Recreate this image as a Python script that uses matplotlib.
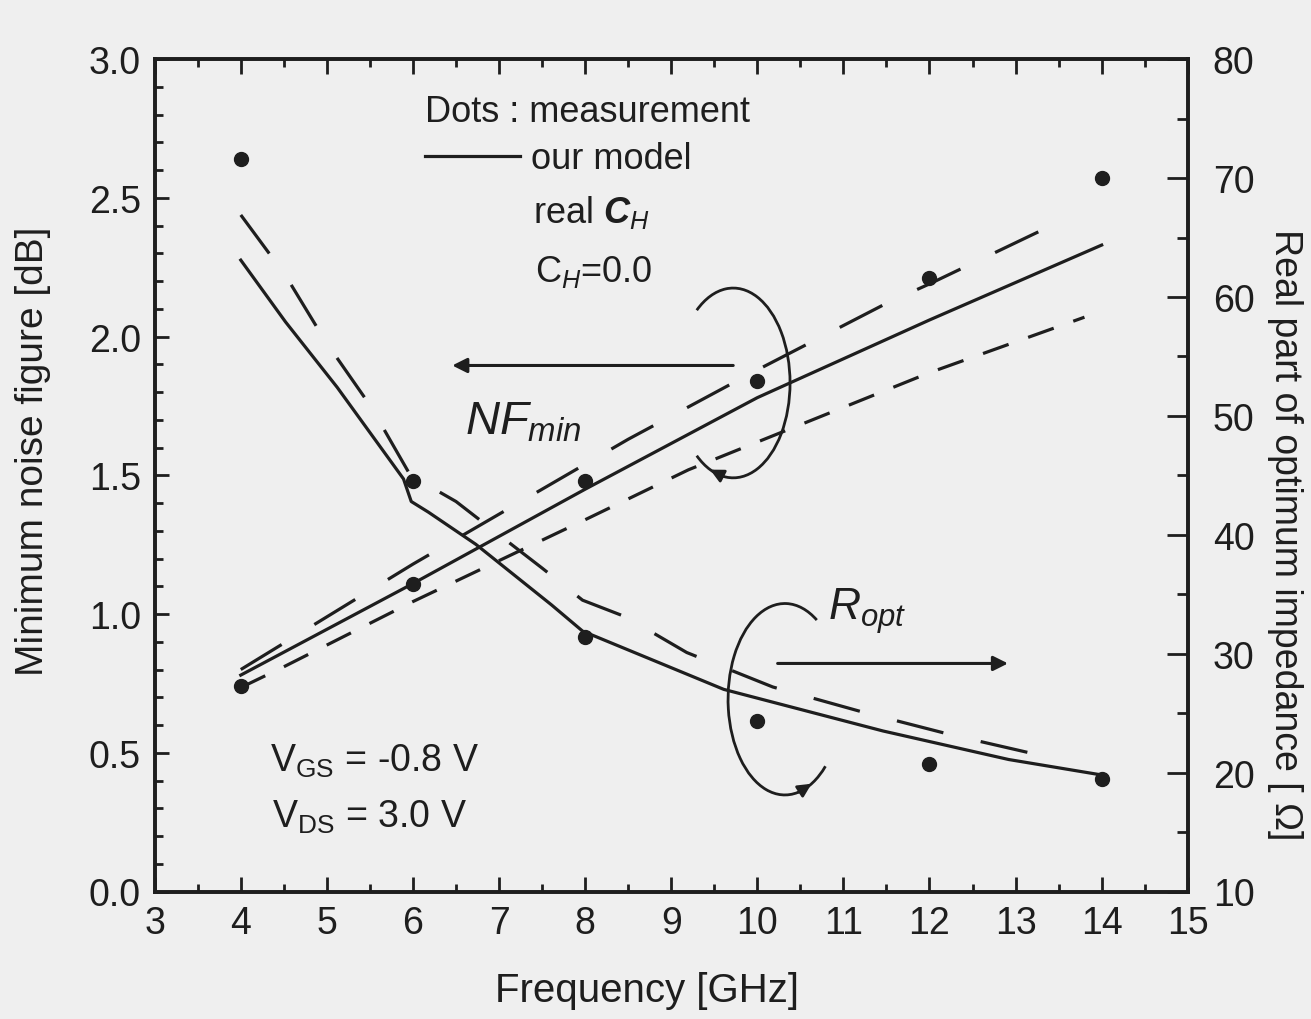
import matplotlib
matplotlib.use('Agg')
import matplotlib.pyplot as plt
from matplotlib import font_manager
from matplotlib.patches import Arc
from matplotlib.ticker import MultipleLocator, FixedLocator
import numpy as np

# ---------------- data ----------------
freq_meas = [4, 6, 8, 10, 12, 14]
nf_meas = [0.74, 1.11, 1.48, 1.84, 2.21, 2.57]          # dB
ropt_meas = [71.6, 44.5, 31.4, 24.3, 20.7, 19.5]        # Ohm

nf_model_f = [4, 6, 8, 10, 12, 14]
nf_model = [0.78, 1.11, 1.45, 1.78, 2.06, 2.33]
nf_realch_f = [4, 6, 6.5, 8.5, 10, 11.5, 12, 13.55]
nf_realch = [0.80, 1.18, 1.27, 1.63, 1.88, 2.12, 2.19, 2.42]
nf_ch0_f = [4, 4.5, 6, 8, 9.2, 10, 12, 13.8]
nf_ch0 = [0.735, 0.81, 1.045, 1.34, 1.52, 1.62, 1.87, 2.07]

ropt_model_f = [4.0, 4.52, 5.12, 5.61, 5.89, 5.98, 6.18, 6.73, 7.61, 7.97,
                9.61, 11.46, 12.92, 14.0]
ropt_model = [63.1, 57.9, 52.4, 47.5, 44.7, 42.8, 41.9, 39.2, 34.1, 31.9,
              27.0, 23.5, 21.1, 19.8]
ropt_realch_f = [4.0, 4.52, 4.99, 5.51, 5.97, 6.5, 7.16, 7.5, 7.97, 8.47,
                 9.18, 10.18, 11.22, 12.24, 13.5]
ropt_realch = [66.9, 61.8, 56.2, 50.8, 45.0, 42.8, 39.1, 37.2, 34.5, 33.1,
               30.1, 27.2, 25.1, 23.2, 21.1]

x_ticks = list(range(3, 16))
nf_ticks = [0.0, 0.5, 1.0, 1.5, 2.0, 2.5, 3.0]
ropt_ticks = [10, 20, 30, 40, 50, 60, 70, 80]

# ---------------- style ----------------
names = {f.name for f in font_manager.fontManager.ttflist}
narrow = 'Liberation Sans Narrow' if 'Liberation Sans Narrow' in names else 'Liberation Sans'
plt.rcParams['font.family'] = [narrow, 'Liberation Sans', 'DejaVu Sans']
plt.rcParams['mathtext.fontset'] = 'custom'
plt.rcParams['mathtext.rm'] = narrow
plt.rcParams['mathtext.it'] = narrow + ':italic'
plt.rcParams['mathtext.bf'] = narrow + ':bold:italic'
plt.rcParams['mathtext.sf'] = narrow

bg = '#efefef'
ink = '#1e1e1e'
lw = 2.3
long_dash = (0, (15, 12))
short_dash = (0, (8.5, 6.5))

fig = plt.figure(figsize=(13.11, 10.20), dpi=100, facecolor=bg)
ax = fig.add_axes([0.118, 0.125, 0.788, 0.816])
ax.set_facecolor(bg)
ax2 = ax.twinx()

# NFmin curves (left axis)
ax.plot(nf_model_f, nf_model, color=ink, lw=lw)
ax.plot(nf_realch_f, nf_realch, color=ink, lw=lw, linestyle=long_dash)
ax.plot(nf_ch0_f, nf_ch0, color=ink, lw=lw, linestyle=short_dash)
ax.plot(freq_meas, nf_meas, linestyle='none', marker='o', ms=10, color=ink)

# Ropt curves (right axis)
ax2.plot(ropt_model_f, ropt_model, color=ink, lw=lw)
ax2.plot(ropt_realch_f, ropt_realch, color=ink, lw=lw, linestyle=long_dash)
ax2.plot(freq_meas, ropt_meas, linestyle='none', marker='o', ms=10, color=ink)

ax.set_xlim(3, 15)
ax.set_ylim(0, 3)
ax2.set_ylim(10, 80)

ax.xaxis.set_major_locator(FixedLocator(x_ticks))
ax.xaxis.set_minor_locator(MultipleLocator(0.5))
ax.yaxis.set_major_locator(FixedLocator(nf_ticks))
ax.yaxis.set_minor_locator(MultipleLocator(0.1))
ax2.yaxis.set_major_locator(FixedLocator(ropt_ticks))
ax2.yaxis.set_minor_locator(MultipleLocator(5))

ax.set_xticklabels([str(t) for t in x_ticks])
ax.set_yticklabels([f'{t:.1f}' for t in nf_ticks])
ax2.set_yticklabels([str(t) for t in ropt_ticks])

for lab in ax.get_xticklabels() + ax.get_yticklabels() + ax2.get_yticklabels():
    lab.set_fontfamily('Liberation Sans')
    lab.set_fontsize(27)
    lab.set_color(ink)

ax.tick_params(axis='x', which='major', direction='in', length=11, width=2,
               top=True, pad=10, colors=ink)
ax.tick_params(axis='x', which='minor', direction='in', length=6, width=2,
               top=True, colors=ink)
ax.tick_params(axis='y', which='major', direction='in', length=10, width=2,
               right=False, pad=10, colors=ink)
ax.tick_params(axis='y', which='minor', direction='in', length=6, width=2,
               right=False, colors=ink)
ax2.tick_params(axis='y', which='major', direction='in', length=15, width=2,
                pad=18, colors=ink)
ax2.tick_params(axis='y', which='minor', direction='in', length=8, width=2,
                colors=ink)
for a in (ax, ax2):
    for s in a.spines.values():
        s.set_linewidth(2.6)
        s.set_color(ink)

ax.set_xlabel('Frequency [GHz]', fontsize=29, color=ink, va='center', ha='center')
ax.xaxis.set_label_coords(0.477, -0.118)
ax.set_ylabel('Minimum noise figure [dB]', fontsize=28, color=ink,
              va='center', ha='center')
ax.yaxis.set_label_coords(-0.118, 0.53)
ax2.set_ylabel('Real part of optimum impedance [ \u03a9]', fontsize=27,
               color=ink, rotation=-90, va='center', ha='center')
ax2.yaxis.set_label_coords(1.094, 0.43)

# ---------------- annotations ----------------
T = ax.transAxes
ax.text(0.262, 0.937, 'Dots : measurement', transform=T, fontsize=26,
        color=ink, va='center', ha='left')
ax.plot([0.262, 0.354], [0.884, 0.884], transform=T, color=ink, lw=2.3)
ax.text(0.364, 0.881, 'our model', transform=T, fontsize=26, color=ink,
        va='center', ha='left')
ax.text(0.366, 0.817, r'real $\mathbf{C}_{\mathit{H}}$', transform=T,
        fontsize=26, color=ink, va='center', ha='left')
ax.text(0.368, 0.745, r'C$_{\mathit{H}}$=0.0', transform=T, fontsize=26,
        color=ink, va='center', ha='left')

ax.text(0.300, 0.565, r'$\mathit{NF}_{\mathit{min}}$', transform=T,
        fontsize=34, color=ink, va='center', ha='left')
ax.annotate('', xy=(0.288, 0.632), xytext=(0.560, 0.632), xycoords=T,
            textcoords=T, arrowprops=dict(arrowstyle='-|>', lw=2.2, color=ink,
                                          mutation_scale=22, shrinkA=0, shrinkB=0))

ax.text(0.652, 0.338, r'$\mathit{R}_{\mathit{opt}}$', transform=T,
        fontsize=32, color=ink, va='center', ha='left')
ax.annotate('', xy=(0.826, 0.274), xytext=(0.603, 0.274), xycoords=T,
            textcoords=T, arrowprops=dict(arrowstyle='-|>', lw=2.2, color=ink,
                                          mutation_scale=22, shrinkA=0, shrinkB=0))

ax.text(0.112, 0.157, r'V$_{\mathrm{GS}}$ = -0.8 V', transform=T, fontsize=27,
        color=ink, va='center', ha='left')
ax.text(0.114, 0.090, r'V$_{\mathrm{DS}}$ = 3.0 V', transform=T, fontsize=27,
        color=ink, va='center', ha='left')


def loop(cx, cy, hw, hh, t1, t2, head_at_end):
    ax.add_patch(Arc((cx, cy), 2 * hw, 2 * hh, theta1=t1, theta2=t2,
                     transform=T, color=ink, lw=2.0))
    if head_at_end:
        a0, a1 = np.radians(t2 - 12), np.radians(t2 + 2)
    else:
        a0, a1 = np.radians(t1 + 12), np.radians(t1 - 2)
    p0 = (cx + hw * np.cos(a0), cy + hh * np.sin(a0))
    p1 = (cx + hw * np.cos(a1), cy + hh * np.sin(a1))
    ax.annotate('', xy=p1, xytext=p0, xycoords=T, textcoords=T,
                arrowprops=dict(arrowstyle='-|>', lw=2.0, color=ink,
                                mutation_scale=20, shrinkA=0, shrinkB=0))


loop(0.560, 0.611, 0.055, 0.114, -112, 112, head_at_end=False)
loop(0.610, 0.231, 0.055, 0.115, 72, 296, head_at_end=True)

fig.savefig('out.png', dpi=100, facecolor=bg)
